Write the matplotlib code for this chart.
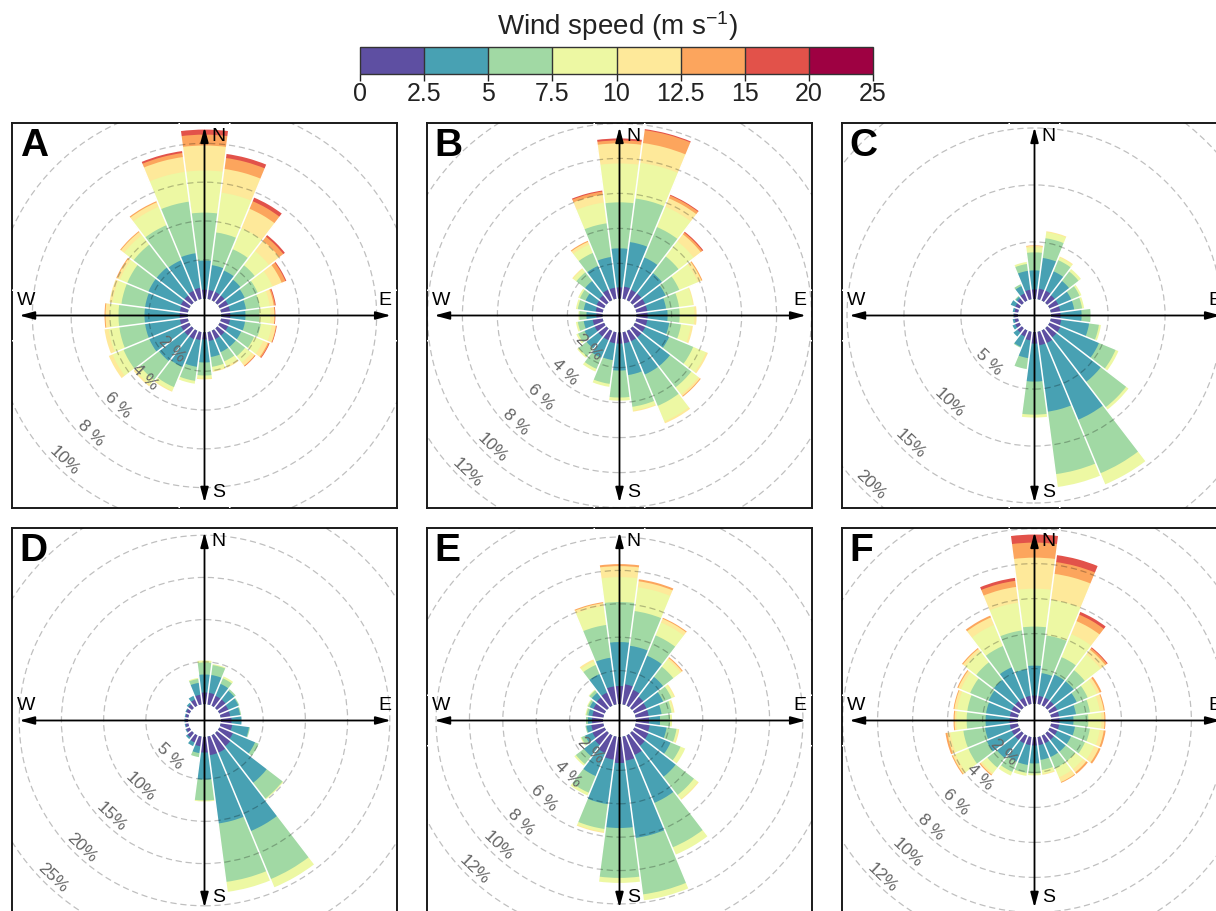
import numpy as np
import matplotlib
matplotlib.use("Agg")
import matplotlib.pyplot as plt
from matplotlib.patches import Wedge, Circle
from matplotlib.colors import ListedColormap, BoundaryNorm
import matplotlib.colorbar as mcolorbar

plt.rcParams['font.family'] = ['Liberation Sans', 'DejaVu Sans']
plt.rcParams['mathtext.fontset'] = 'custom'
plt.rcParams['mathtext.rm'] = 'Liberation Sans'
plt.rcParams['mathtext.it'] = 'Liberation Sans'

# ---------------- data ----------------
speed_breaks = ['0', '2.5', '5', '7.5', '10', '12.5', '15', '20', '25']
speed_colors = ['#5E4FA2', '#48A1B3', '#A1D9A4', '#EDF8A3',
                '#FEE99A', '#FCA55D', '#E2524A', '#9E0142']
directions = np.arange(0, 360, 15)   # sector centres (deg, clockwise from N)

# cumulative frequency (%) per direction, at the upper edge of each speed class
cum_A = [
    [0.46, 1.96, 4.43, 6.60, 7.89, 8.45, 8.71],
    [0.46, 1.75, 3.45, 5.52, 6.75, 7.32, 7.53],
    [0.46, 1.65, 2.84, 4.02, 5.10, 5.52, 5.72],
    [0.46, 1.49, 2.42, 3.35, 4.02, 4.28, 4.38],
    [0.46, 1.39, 2.11, 2.94, 3.45, 3.66, 3.71],
    [0.46, 1.29, 2.01, 2.53, 2.73, 2.80, 2.84],
    [0.46, 1.24, 1.96, 2.53, 2.73, 2.76, 2.78],
    [0.46, 1.24, 2.06, 2.63, 2.84, 2.87, 2.89],
    [0.46, 1.19, 1.91, 2.42, 2.68, 2.75, 2.78],
    [0.46, 1.19, 1.80, 2.22, 2.42, 2.46, 2.47],
    [0.46, 1.19, 1.70, 1.96, 2.06],
    [0.46, 1.29, 1.80, 2.01, 2.06],
    [0.36, 1.55, 2.22, 2.37, 2.42],
    [0.41, 1.80, 2.53, 2.68],
    [0.46, 2.01, 3.14, 3.35, 3.40],
    [0.46, 2.11, 3.35, 3.66, 3.76],
    [0.46, 2.22, 3.66, 4.28, 4.48],
    [0.41, 2.22, 3.56, 4.12, 4.33],
    [0.41, 2.22, 3.56, 4.02, 4.23, 4.28],
    [0.41, 2.22, 3.45, 3.92, 4.07],
    [0.46, 2.27, 3.45, 3.87, 4.02, 4.07],
    [0.46, 2.27, 3.76, 4.38, 4.59, 4.64],
    [0.52, 2.22, 4.18, 5.21, 5.46, 5.52],
    [0.57, 2.37, 5.05, 6.60, 7.37, 7.58, 7.68],
]
cum_B = [
    [0.63, 2.86, 5.49, 7.71, 8.86, 9.03, 9.14],
    [0.69, 3.26, 5.77, 7.83, 8.97, 9.71, 9.77],
    [0.63, 2.63, 4.51, 5.77, 6.29, 6.46, 6.51],
    [0.63, 2.11, 3.31, 4.40, 4.91, 5.03, 5.09],
    [0.63, 1.89, 2.74, 3.89, 4.11, 4.17],
    [0.63, 1.71, 2.46, 3.26, 3.31],
    [0.63, 1.77, 2.46, 3.31, 3.43],
    [0.63, 1.89, 2.57, 3.14, 3.26],
    [0.63, 2.11, 3.60, 4.40, 4.51],
    [0.63, 2.69, 4.23, 4.74, 4.86, 4.91],
    [0.63, 2.69, 4.63, 5.60, 5.71],
    [0.63, 2.46, 4.29, 4.51, 4.57],
    [0.63, 2.17, 3.71, 3.89],
    [0.63, 1.60, 2.97, 3.14],
    [0.57, 1.66, 2.34, 2.51],
    [0.57, 1.43, 2.00, 2.11],
    [0.57, 1.20, 1.60, 1.71],
    [0.57, 1.09, 1.43, 1.54],
    [0.34, 0.91, 1.31, 1.37],
    [0.40, 1.09, 1.43, 1.54],
    [0.46, 1.14, 1.49, 1.60],
    [0.51, 1.54, 2.17, 2.40, 2.46],
    [0.63, 2.11, 2.91, 3.43, 3.60, 3.66],
    [0.63, 2.40, 4.34, 5.54, 6.00, 6.17, 6.23],
]
cum_C = [
    [0.83, 2.50, 4.08, 4.52, 4.65, 4.69],
    [0.92, 3.64, 5.39, 5.92, 6.01],
    [0.92, 2.76, 3.82, 4.08, 4.17],
    [0.83, 2.41, 3.46, 3.73],
    [0.83, 2.06, 2.85, 3.03],
    [0.83, 2.06, 2.76, 2.94],
    [0.83, 2.67, 3.46],
    [0.92, 3.38, 4.25, 4.43],
    [1.01, 4.69, 6.27, 6.54],
    [1.01, 5.92, 8.73, 8.99],
    [1.18, 8.46, 13.55, 14.61],
    [1.18, 7.06, 12.59, 13.73],
    [1.01, 4.34, 7.24, 7.50],
    [0.75, 2.32, 3.29],
    [0.57, 1.54, 1.62],
    [0.48, 0.92],
    [0.39, 0.66],
    [0.31, 0.48],
    [0.31, 0.39],
    [0.31, 0.48],
    [0.39, 0.83],
    [0.48, 0.66, 0.75],
    [0.66, 1.36, 1.54],
    [0.83, 2.50, 3.11, 3.29],
]
cum_D = [
    [1.37, 3.50, 4.92, 5.16],
    [1.37, 3.50, 4.68, 4.80],
    [1.25, 2.79, 3.50, 3.74],
    [1.25, 2.56, 2.79],
    [1.14, 2.44, 2.56],
    [1.14, 2.32, 2.44],
    [1.25, 2.44],
    [1.37, 3.38, 3.50],
    [1.73, 4.57, 5.04],
    [1.96, 7.41, 9.77, 9.89],
    [2.20, 12.25, 18.41, 19.47],
    [2.20, 10.36, 17.34, 18.53],
    [1.85, 5.04, 7.52, 7.64],
    [1.14, 1.96, 2.44],
    [0.90, 1.37],
    [0.66, 0.90],
    [0.43, 0.54],
    [0.31, 0.43],
    [0.31, 0.43],
    [0.31, 0.43],
    [0.43, 0.54],
    [0.54, 0.78],
    [0.78, 1.25],
    [1.14, 2.56, 3.03, 3.15],
]
cum_E = [
    [1.08, 3.71, 6.11, 7.60, 8.26, 8.38],
    [1.20, 3.53, 5.63, 7.07, 7.43, 7.55],
    [1.02, 3.23, 4.55, 5.39, 5.63, 5.69],
    [0.84, 2.34, 3.11, 3.65, 3.77, 3.83],
    [0.78, 1.86, 2.40, 2.57, 2.63],
    [0.78, 1.56, 2.16, 2.28, 2.34],
    [0.78, 1.44, 2.04, 2.16],
    [0.84, 1.86, 2.46, 2.57, 2.63],
    [0.90, 2.34, 2.99, 3.29],
    [0.96, 3.29, 4.67, 4.97, 5.03],
    [1.26, 4.37, 7.25, 7.72],
    [1.44, 6.11, 9.52, 9.88],
    [1.56, 5.45, 8.44, 8.74],
    [1.38, 4.07, 5.57, 5.75, 5.81],
    [1.14, 2.63, 3.71, 3.89],
    [0.90, 1.74, 2.34, 2.46],
    [0.78, 1.26, 1.50, 1.56],
    [0.72, 1.02, 1.08],
    [0.66, 0.90, 1.02],
    [0.66, 0.90, 1.02, 1.08],
    [0.72, 0.96, 1.08, 1.14],
    [0.78, 1.14, 1.32, 1.38],
    [0.84, 2.04, 2.63, 2.87, 2.99],
    [1.08, 2.81, 4.79, 5.93, 6.11, 6.17],
]
cum_F = [
    [0.46, 2.17, 4.40, 6.57, 8.34, 9.20, 9.66],
    [0.46, 1.77, 3.94, 6.00, 7.49, 8.17, 8.57],
    [0.46, 1.89, 2.97, 4.40, 5.20, 5.60, 5.77],
    [0.46, 1.89, 2.69, 3.83, 4.17, 4.29, 4.34],
    [0.46, 1.66, 2.34, 2.91, 3.09, 3.20],
    [0.46, 1.43, 2.23, 2.80, 3.03, 3.09],
    [0.46, 1.26, 2.11, 2.86, 3.03, 3.09],
    [0.46, 1.37, 2.23, 2.80, 3.03, 3.14],
    [0.46, 1.31, 2.17, 2.74, 3.03, 3.14],
    [0.46, 1.31, 2.00, 2.57, 2.80, 2.91],
    [0.46, 1.31, 2.00, 2.57, 2.86, 2.91],
    [0.46, 1.31, 1.89, 2.11, 2.17],
    [0.46, 1.49, 2.06, 2.17],
    [0.46, 1.60, 2.06, 2.23],
    [0.46, 1.60, 2.23, 2.46],
    [0.46, 1.77, 2.46, 2.86, 2.97, 3.03],
    [0.46, 2.00, 3.14, 3.94, 4.11, 4.17],
    [0.46, 1.89, 3.14, 3.89, 4.06, 4.17],
    [0.46, 1.83, 2.91, 3.49, 3.60, 3.66],
    [0.46, 1.83, 2.91, 3.49, 3.66, 3.71],
    [0.46, 1.89, 3.03, 3.60, 3.77, 3.83],
    [0.46, 2.00, 3.26, 4.06, 4.23, 4.29],
    [0.46, 2.34, 3.66, 4.97, 5.43, 5.54],
    [0.46, 2.00, 4.23, 5.83, 6.74, 7.09, 7.26],
]

panel_letters = ['A', 'B', 'C', 'D', 'E', 'F']
panel_data = [cum_A, cum_B, cum_C, cum_D, cum_E, cum_F]
grid_A = [2, 4, 6, 8, 10]
grid_B = [2, 4, 6, 8, 10, 12]
grid_C = [5, 10, 15, 20]
grid_D = [5, 10, 15, 20, 25]
grid_E = [2, 4, 6, 8, 10, 12]
grid_F = [2, 4, 6, 8, 10, 12]
panel_grids = [grid_A, grid_B, grid_C, grid_D, grid_E, grid_F]

# ---------------- layout ----------------
W, H = 1216, 911
fig = plt.figure(figsize=(W / 100, H / 100), dpi=100)

box = 385
col_x = [12, 427, 842]
row_y = [123, 528]
# half-range of each panel in % (scale of the panel)
panel_half = [9.92, 11.0, 16.9, 22.8, 11.53, 11.0]


def draw_panel(idx):
    r, c = divmod(idx, 3)
    x0, y0 = col_x[c], row_y[r]
    ax = fig.add_axes([x0 / W, 1 - (y0 + box) / H, box / W, box / H])
    L = panel_half[idx]
    k = (box / 2) / L          # px per %
    ax.set_xlim(-L, L)
    ax.set_ylim(-L, L)
    ax.set_xticks([])
    ax.set_yticks([])
    for s in ax.spines.values():
        s.set_linewidth(1.4)
        s.set_color('#1a1a1a')

    cum = panel_data[idx]
    totals = [row[-1] for row in cum]
    off = 0.1 * max(totals)

    # stacked bars (outer classes first, each from the hole outwards)
    for th, row in zip(directions, cum):
        t1 = 90 - th - 7.5
        t2 = 90 - th + 7.5
        for j in range(len(row) - 1, -1, -1):
            ax.add_patch(Wedge((0, 0), off + row[j], t1, t2, width=row[j],
                               facecolor=speed_colors[j], edgecolor='none',
                               lw=0, zorder=2))
    # white gaps between sectors
    R = off + max(totals) + 1
    for th in directions:
        a = np.deg2rad(90 - (th + 7.5))
        ax.plot([0, R * np.cos(a)], [0, R * np.sin(a)], color='white',
                lw=1.1, zorder=3, solid_capstyle='butt')

    # dashed grid circles and labels
    for v in panel_grids[idx]:
        ax.add_patch(Circle((0, 0), off + v, fill=False, lw=0.9,
                            ls=(0, (5, 3)), edgecolor=(0, 0, 0, 0.25),
                            zorder=4))
        rl = off + v - 8.5 / k
        a = np.deg2rad(90 - 224)
        lab = f"{v} %" if v < 10 else f"{v}%"
        ax.text(rl * np.cos(a), rl * np.sin(a), lab, rotation=-44,
                ha='center', va='center', fontsize=12.5, color='#666666',
                zorder=5, rotation_mode='anchor')

    # compass arrows
    ap = dict(arrowstyle='<|-|>,head_length=0.75,head_width=0.2',
              color='black', lw=1.3, shrinkA=0, shrinkB=0, mutation_scale=12)
    ax.annotate('', xy=(0.5, 0.989), xytext=(0.5, 0.014),
                xycoords='axes fraction', textcoords='axes fraction',
                arrowprops=ap, zorder=6)
    ax.annotate('', xy=(0.019, 0.5), xytext=(0.984, 0.5),
                xycoords='axes fraction', textcoords='axes fraction',
                arrowprops=ap, zorder=6)
    fs = 14
    ax.text(0.537, 0.965, 'N', transform=ax.transAxes, ha='center',
            va='center', fontsize=fs, zorder=7)
    ax.text(0.537, 0.04, 'S', transform=ax.transAxes, ha='center',
            va='center', fontsize=fs, zorder=7)
    ax.text(0.036, 0.539, 'W', transform=ax.transAxes, ha='center',
            va='center', fontsize=fs, zorder=7)
    ax.text(0.969, 0.539, 'E', transform=ax.transAxes, ha='center',
            va='center', fontsize=fs, zorder=7)
    ax.text(0.02, 0.94, panel_letters[idx], transform=ax.transAxes,
            ha='left', va='center', fontsize=28, fontweight='bold', zorder=7)


for i in range(6):
    draw_panel(i)

# ---------------- colour key ----------------
cax = fig.add_axes([360 / W, 1 - 74 / H, 513 / W, 27 / H])
cmap = ListedColormap(speed_colors)
pos = np.arange(len(speed_breaks))
norm = BoundaryNorm(pos, cmap.N)
cb = mcolorbar.ColorbarBase(cax, cmap=cmap, norm=norm, boundaries=pos,
                            ticks=pos, orientation='horizontal',
                            drawedges=True)
cb.set_ticklabels(speed_breaks)
cb.outline.set_linewidth(1.0)
cb.outline.set_edgecolor('#333333')
cb.dividers.set_color('#333333')
cb.dividers.set_linewidth(1.0)
cax.tick_params(axis='x', length=5, width=1, labelsize=18, pad=1,
                colors='#222222')
fig.text(617 / W, 1 - 26 / H, 'Wind speed (m s$^{-1}$)', ha='center',
         va='center', fontsize=20, color='#222222')

fig.savefig('out.png', dpi=100)
